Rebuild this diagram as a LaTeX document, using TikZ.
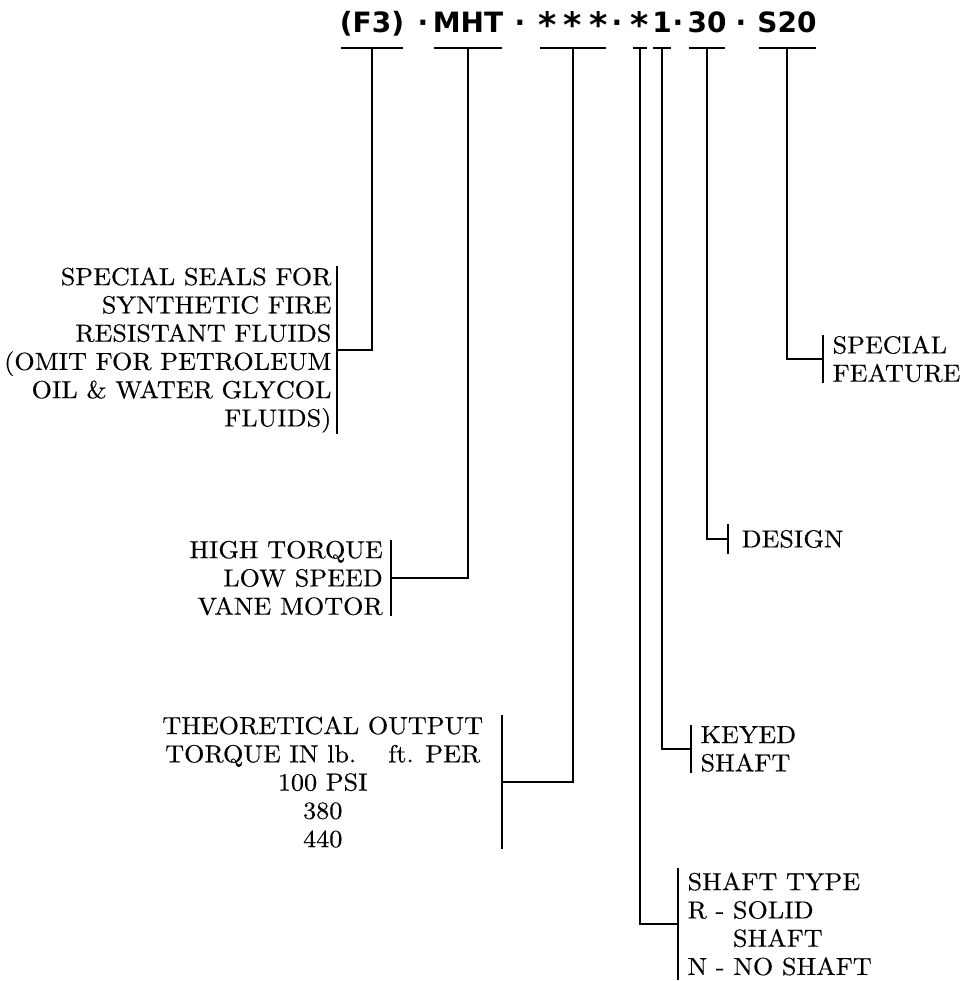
\documentclass[tikz,border=0pt]{standalone}
\usepackage{fontspec}
\usepackage{graphicx}
\newfontfamily\codefont{DejaVu Sans}
\newfontfamily\lblfont{lmroman10-regular.otf}[FakeStretch=1.06, FakeBold=0.4]
\newcommand\codestar{\makebox[0.6em]{\raisebox{-0.16em}{\scalebox{1.25}{*}}}}

\begin{document}
\begin{tikzpicture}[
    x=0.75pt, y=-0.75pt,
    code/.style={font=\codefont\bfseries\fontsize{21}{21}\selectfont, anchor=base, inner sep=0pt},
    lbl/.style={font=\lblfont\fontsize{18.5}{21.2}\selectfont, inner ysep=0.5pt},
    lft/.style={lbl, anchor=east, align=right, inner xsep=4pt},
    rgt/.style={lbl, anchor=west, align=left, inner xsep=7pt},
    lnk/.style={line width=1.4pt},
    uline/.style={line width=1.2pt}
  ]
    \useasboundingbox (0,0) rectangle (963,981);

    % model code
    \node[code] (f3) at (372,33) {(F3)};
    \node[code] (d1) at (423,33) {·};
    \node[code] (mht) at (468,33) {MHT};
    \node[code] (d2) at (520,33) {·};
    \node[code] (stars) at (573,33) {\codestar\hspace{0.3em}\codestar\hspace{0.3em}\codestar};
    \node[code] (d3) at (617,33) {·};
    \node[code] (star) at (640,33) {\codestar};
    \node[code] (one) at (662,33) {1};
    \node[code] (d4) at (678,33) {·};
    \node[code] (thirty) at (707,33) {30};
    \node[code] (d5) at (741,33) {·};
    \node[code] (sfeat) at (787,33) {S20};

    \foreach \n in {f3,mht,stars,star,one,thirty,sfeat}
      \draw[uline] ([xshift=1pt,yshift=-11.25pt]\n.base west) -- ([xshift=-1pt,yshift=-11.25pt]\n.base east);

    % explanations
    \node[lft] (seals) at (337,350) {SPECIAL SEALS FOR\\SYNTHETIC FIRE\\RESISTANT FLUIDS\\(OMIT FOR PETROLEUM\\OIL \& WATER GLYCOL\\FLUIDS)};
    \node[lft, inner xsep=6pt] (motor) at (391,578) {HIGH TORQUE\\LOW SPEED\\VANE MOTOR};
    \node[lft, align=center, inner xsep=14pt] (torque) at (502,782) {THEORETICAL OUTPUT\\TORQUE IN lb.\hspace{1.3em}ft. PER\\100 PSI\\380\\440};
    \node[rgt] (feature) at (823,359) {SPECIAL\\FEATURE};
    \node[rgt, inner xsep=10pt, inner ysep=4pt] (design) at (728,539) {DESIGN};
    \node[rgt] (keyed) at (691,749) {KEYED\\SHAFT};
    \node[rgt, inner ysep=3pt] (shaft) at (678,924) {SHAFT TYPE\\R - SOLID\\\hphantom{R - }SHAFT\\N - NO SHAFT};

    \foreach \n in {seals,motor,torque}
      \draw[lnk] (\n.north east) -- (\n.south east);
    \foreach \n in {feature,design,keyed,shaft}
      \draw[lnk] (\n.north west) -- (\n.south west);

    \draw[lnk] ([yshift=-11.25pt]f3.base) |- (seals.east);
    \draw[lnk] ([yshift=-11.25pt]mht.base) |- (motor.east);
    \draw[lnk] ([yshift=-11.25pt]stars.base) |- (torque.east);
    \draw[lnk] ([yshift=-11.25pt]star.base) |- (shaft.west);
    \draw[lnk] ([yshift=-11.25pt]one.base) |- (keyed.west);
    \draw[lnk] ([yshift=-11.25pt]thirty.base) |- (design.west);
    \draw[lnk] ([yshift=-11.25pt]sfeat.base) |- (feature.west);
  \end{tikzpicture}
\end{document}
